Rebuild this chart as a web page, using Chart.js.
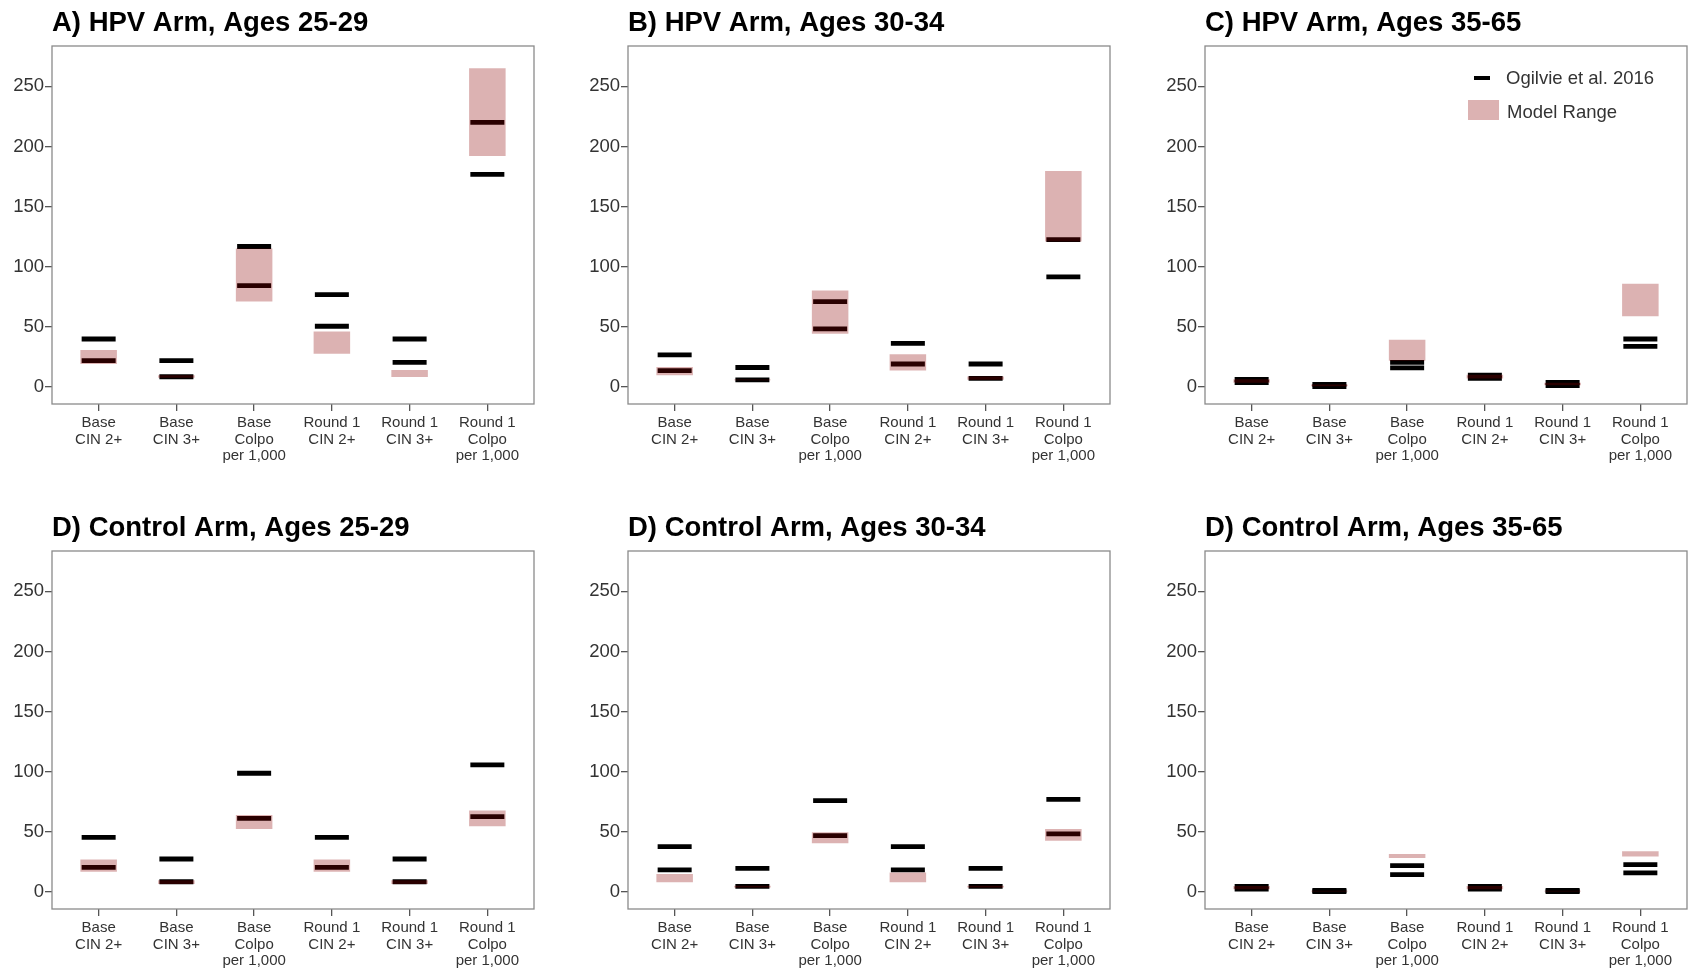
<!DOCTYPE html>
<html>
<head>
<meta charset="utf-8">
<script src="https://cdn.jsdelivr.net/npm/chart.js@4.4.1/dist/chart.umd.min.js"></script>
<style>
body{margin:0;background:#fff;width:1690px;height:970px;position:relative;overflow:hidden;font-family:'Liberation Sans',Arial,sans-serif;}
.panel{position:absolute;width:533px;height:466px;}
.lg{position:absolute;font-size:18.5px;line-height:18.5px;color:#333;white-space:nowrap;}
</style>
</head>
<body>
<div class="panel" style="left:4px;top:0px"><canvas id="pA"></canvas></div>
<div class="panel" style="left:580px;top:0px"><canvas id="pB"></canvas></div>
<div class="panel" style="left:1157px;top:0px"><canvas id="pC"></canvas></div>
<div class="panel" style="left:4px;top:505px"><canvas id="pD"></canvas></div>
<div class="panel" style="left:580px;top:505px"><canvas id="pE"></canvas></div>
<div class="panel" style="left:1157px;top:505px"><canvas id="pF"></canvas></div>

<!-- legend of panel C -->
<div style="position:absolute;left:1474px;top:76px;width:16px;height:4px;background:#000"></div>
<div class="lg" style="left:1506px;top:68.5px">Ogilvie et al. 2016</div>
<div style="position:absolute;left:1468px;top:100px;width:31px;height:19.5px;background:rgb(220,178,178)"></div>
<div class="lg" style="left:1507px;top:103px">Model Range</div>

<script>
const categories = [['Base','CIN 2+'],['Base','CIN 3+'],['Base','Colpo','per 1,000'],
                    ['Round 1','CIN 2+'],['Round 1','CIN 3+'],['Round 1','Colpo','per 1,000']];
const yTicks = [0,50,100,150,200,250];
const titles = ['A) HPV Arm, Ages 25-29','B) HPV Arm, Ages 30-34','C) HPV Arm, Ages 35-65',
                'D) Control Arm, Ages 25-29','D) Control Arm, Ages 30-34','D) Control Arm, Ages 35-65'];

// Ogilvie et al. 2016: two reported values per category
const ogilvieA = [[39.7,21.7],[21.7,8.3],[116.7,84.2],[76.7,50.3],[39.7,20.3],[220,176.7]];
const ogilvieB = [[26.5,13.3],[16,5.6],[70.8,48.1],[36.1,18.9],[18.9,7],[122.5,91.4]];
const ogilvieC = [[6,3.5],[2,0],[20.3,15.6],[9.7,7],[3.5,1],[39.7,33.6]];
const ogilvieD = [[45.3,20.3],[27.2,8.3],[98.6,61.1],[45.3,20.3],[27.2,8.3],[105.6,62.5]];
const ogilvieE = [[37.5,18.1],[19.4,4.4],[75.8,46.7],[37.5,18.1],[19.4,4.4],[76.9,48.1]];
const ogilvieF = [[4.5,2.1],[1,0],[21.7,14.2],[4.5,2.1],[1,0],[22.5,15.6]];

// model range [low, high]
const modelA = [[19,30.5],[7.5,9.5],[71,115],[27.5,46],[8,14],[192,265]];
const modelB = [[9.5,16.5],[5.3,5.9],[44,80],[13.5,27],[5.8,8.5],[120.8,179.5]];
const modelC = [[3.3,6.2],[0.3,1.8],[21.5,39],[6.8,9.9],[1.3,3.2],[58.6,85.6]];
const modelD = [[16.7,26.7],[6.5,9.5],[52.2,63.9],[16.7,26.7],[6.5,9.5],[54.4,67.5]];
const modelE = [[7.8,14.7],[3.5,5],[40.3,49.4],[7.8,16],[3.5,5],[42.5,52.2]];
const modelF = [[2,4.7],[0.2,0.8],[28.1,31.4],[2,4.7],[0.2,0.8],[29.2,33.6]];

const panels = [
  {id:'pA', title:titles[0], ogilvie:ogilvieA, model:modelA},
  {id:'pB', title:titles[1], ogilvie:ogilvieB, model:modelB},
  {id:'pC', title:titles[2], ogilvie:ogilvieC, model:modelC},
  {id:'pD', title:titles[3], ogilvie:ogilvieD, model:modelD},
  {id:'pE', title:titles[4], ogilvie:ogilvieE, model:modelE},
  {id:'pF', title:titles[5], ogilvie:ogilvieF, model:modelF}
];

Chart.defaults.font.family = "'Liberation Sans', Arial, sans-serif";

// grey frame round the plotting area
const panelBox = {
  id: 'panelBox',
  afterDraw(chart) {
    const {ctx, chartArea: a} = chart;
    ctx.save();
    ctx.strokeStyle = '#8a8a8a';
    ctx.lineWidth = 1.3;
    ctx.strokeRect(a.left, a.top, a.right - a.left, a.bottom - a.top);
    ctx.restore();
  }
};

const tickGrid = {display:true, drawOnChartArea:false, drawTicks:true, offset:false, tickLength:7, color:'#555', lineWidth:1.3};

panels.forEach(p => {
  new Chart(document.getElementById(p.id), {
    type: 'bar',
    data: {
      datasets: [
        {
          type: 'bar',
          label: 'Model Range',
          order: 0,
          data: p.model.map((r, i) => ({x: i + 1, y: r})),
          backgroundColor: 'rgba(139,0,0,0.3)',
          borderWidth: 0,
          barPercentage: 0.47,
          categoryPercentage: 1
        },
        {
          type: 'scatter',
          label: 'Ogilvie et al. 2016',
          order: 1,
          data: p.ogilvie.flatMap((v, i) => v.map(y => ({x: i + 1, y: y}))),
          pointStyle: 'line',
          pointRadius: 17,
          pointHoverRadius: 17,
          pointBorderColor: '#000',
          pointBorderWidth: 4.8,
          pointHoverBorderWidth: 4.8
        }
      ]
    },
    options: {
      responsive: true,
      maintainAspectRatio: false,
      animation: false,
      events: [],
      layout: {autoPadding: false, padding: {left: 0, right: 3, top: 0, bottom: 0}},
      plugins: {
        legend: {display: false},
        tooltip: {enabled: false},
        title: {
          display: true,
          text: p.title,
          align: 'start',
          fullSize: false,
          color: '#000',
          font: {size: 27.5, weight: 'bold', lineHeight: 1.2},
          padding: {top: 6.5, bottom: 6.5}
        }
      },
      scales: {
        x: {
          type: 'linear',
          min: 0.4,
          max: 6.6,
          offset: false,
          afterBuildTicks: s => { s.ticks = categories.map((c, i) => ({value: i + 1})); },
          afterFit: s => { s.height = 62; s.paddingLeft = 0; s.paddingRight = 0; },
          grid: tickGrid,
          border: {display: false},
          ticks: {
            callback: v => categories[v - 1],
            font: {size: 15, lineHeight: 1.1},
            color: '#333',
            padding: 4,
            maxRotation: 0,
            autoSkip: false
          }
        },
        y: {
          type: 'linear',
          min: -14.4,
          max: 283.6,
          afterBuildTicks: s => { s.ticks = yTicks.map(v => ({value: v})); },
          afterFit: s => { s.width = 48; s.paddingTop = 0; s.paddingBottom = 0; },
          grid: tickGrid,
          border: {display: false},
          ticks: {font: {size: 18.5}, color: '#333', padding: 1}
        }
      }
    },
    plugins: [panelBox]
  });
});
</script>
</body>
</html>
